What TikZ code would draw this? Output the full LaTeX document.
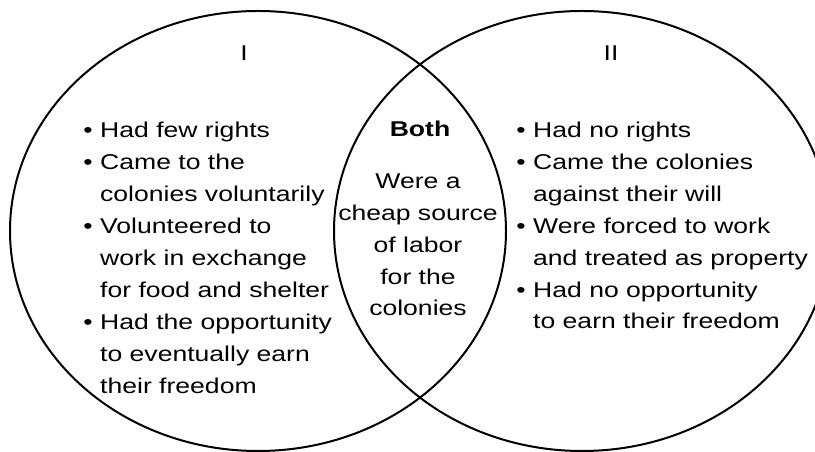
\documentclass[tikz,border=0pt]{standalone}
\usepackage{fontspec}
\setmainfont{Liberation Sans}[FakeStretch=1.24]
\usetikzlibrary{
  positioning,
  shapes.geometric
}
\tikzset{
  vennset/.style={
    draw, ellipse, line width=2bp, inner sep=0pt,
    minimum width=496bp, minimum height=440bp
  },
  venntext/.style={font=\fontsize{21.5}{32}\selectfont, inner sep=0pt},
  vennhead/.style={venntext, anchor=base},
  vennlist/.style={venntext, align=left, anchor=base west},
  venncore/.style={venntext, align=center, anchor=base}
}
\newcommand{\vbul}{\llap{\textbullet\hspace{7.5bp}}}

\begin{document}
\begin{tikzpicture}[x=1bp, y=-1bp]
  \useasboundingbox (0,0) rectangle (815,452);
  % the two sets
  \node[vennset] (setI) at (258,231) {};
  \node[vennset] (setII) at (582,231) {};
  % headings
  \node[vennhead] (headI) at (244,61) {I};
  \node[vennhead] (headII) at (611,61) {II};
  \node[vennhead, font=\fontsize{21.5}{32}\selectfont\bfseries] (headBoth) at (420,137) {Both};
  % lists (base anchor sits on the last line)
  \node[vennlist] (listI) at (100,393) {%
    \vbul Had few rights\\
    \vbul Came to the\\
    colonies voluntarily\\
    \vbul Volunteered to\\
    work in exchange\\
    for food and shelter\\
    \vbul Had the opportunity\\
    to eventually earn\\
    their freedom};
  \node[vennlist] (listII) at (533,329) {%
    \vbul Had no rights\\
    \vbul Came the colonies\\
    against their will\\
    \vbul Were forced to work\\
    and treated as property\\
    \vbul Had no opportunity\\
    to earn their freedom};
  \node[venncore] (listBoth) at (418,316) {%
    Were a\\
    cheap source\\
    of labor\\
    for the\\
    colonies};
\end{tikzpicture}
\end{document}
